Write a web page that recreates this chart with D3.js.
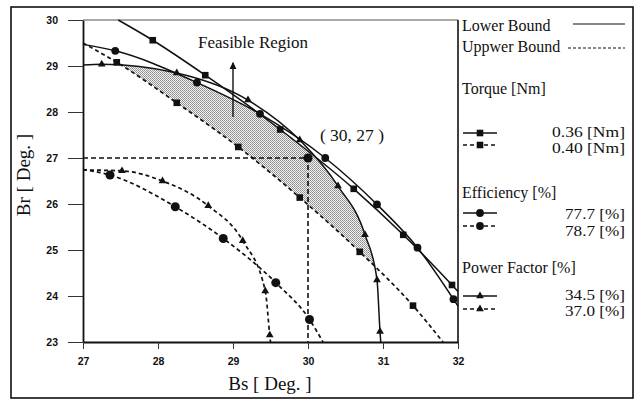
<!DOCTYPE html>
<html><head><meta charset="utf-8">
<script src="https://cdn.jsdelivr.net/npm/d3@7"></script>
<style>body{margin:0;background:#fff} svg{display:block}</style>
</head><body><svg id="c" width="638" height="400"></svg>
<script>
// ---------- data ----------
const bsTicks = [27, 28, 29, 30, 31, 32];
const brTicks = [23, 24, 25, 26, 27, 28, 29, 30];
// [Bs, Br]
const torque036 = [[27.47,30],[27.93,29.56],[28.63,28.8],[29.63,27.62],[30.61,26.33],[31.27,25.33],[31.92,24.24],[32,24.1]];
const torque040 = [[27,29.5],[27.45,29.08],[28.25,28.2],[29.07,27.24],[29.89,26.14],[30.69,24.96],[31.4,23.79],[31.8,23]];
const eff777 = [[27,29.47],[27.43,29.33],[28.52,28.64],[29.36,27.96],[30.23,27.0],[30.92,25.99],[31.46,25.05],[31.94,23.93],[32,23.78]];
const eff787 = [[27,26.75],[27.36,26.63],[28.23,25.94],[28.87,25.25],[29.57,24.29],[30.02,23.49],[30.2,23]];
const pf345 = [[27,29.02],[27.25,29.04],[28.25,28.85],[29.2,28.26],[29.89,27.39],[30.4,26.39],[30.76,25.33],[30.92,24.35],[30.96,23.23],[30.97,23]];
const pf370 = [[27,26.74],[27.52,26.72],[28.06,26.5],[28.67,25.96],[29.13,25.2],[29.43,24.11],[29.49,23.15],[29.5,23]];
const chosenPoint = [30, 27];
const chosenLabel = "( 30, 27 )";
const arrowFrom = [29, 27.89], arrowTo = [29, 29.07];
const regionLabel = "Feasible Region";
const legendGroups = ["Torque [Nm]", "Efficiency [%]", "Power Factor [%]"];
const legendItems = [["0.36 [Nm]","0.40 [Nm]"],["77.7 [%]","78.7 [%]"],["34.5 [%]","37.0 [%]"]];

// ---------- setup ----------
const svg = d3.select('#c');
const x = d3.scaleLinear().domain([27, 32]).range([83, 458]);
const y = d3.scaleLinear().domain([23, 30]).range([342, 20]);
const serif = "'Liberation Serif','Times New Roman',serif";
const sans = "'Liberation Sans',Arial,sans-serif";
const ink = "#111";

// outer frame
svg.append('rect').attr('x',11).attr('y',7).attr('width',622).attr('height',391)
  .attr('fill','none').attr('stroke',ink).attr('stroke-width',1.6);

const defs = svg.append('defs');
const pat = defs.append('pattern').attr('id','dots').attr('patternUnits','userSpaceOnUse')
  .attr('width',2).attr('height',2);
pat.append('rect').attr('width',2).attr('height',2).attr('fill','#f4f4f4');
pat.append('rect').attr('x',0).attr('y',0).attr('width',1).attr('height',1).attr('fill','#8c8c8c');
pat.append('rect').attr('x',1).attr('y',1).attr('width',1).attr('height',1).attr('fill','#9c9c9c');

const curve = d3.curveMonotoneX;
const below = d3.area().x(d=>x(d[0])).y0(y(23)).y1(d=>y(d[1])).curve(curve);
const above = d3.area().x(d=>x(d[0])).y0(y(30)).y1(d=>y(d[1])).curve(curve);
defs.append('clipPath').attr('id','aboveT040').append('path').attr('d', above(torque040));
defs.append('clipPath').attr('id','belowE777').append('path').attr('d', below(eff777));
defs.append('clipPath').attr('id','belowT036').append('path')
  .attr('d', below([[27,30],...torque036]));

// feasible region shading
svg.append('g').attr('clip-path','url(#belowT036)')
  .append('g').attr('clip-path','url(#belowE777)')
  .append('g').attr('clip-path','url(#aboveT040)')
  .append('path').attr('d', below(pf345)).attr('fill','url(#dots)');

// axes
const fmt = d3.format('d');
const yAxis = d3.axisLeft(y).tickValues(brTicks).tickFormat(fmt).tickSize(15).tickSizeOuter(0).tickPadding(10);
const gy = svg.append('g').attr('transform',`translate(${x(27)},0)`).call(yAxis);
const xAxis = d3.axisBottom(x).tickValues(bsTicks).tickFormat(fmt).tickSize(7).tickSizeOuter(0).tickPadding(9);
const gx = svg.append('g').attr('transform',`translate(0,${y(23)})`).call(xAxis);
[gx, gy].forEach(g => {
  g.select('.domain').attr('stroke',ink).attr('stroke-width',1.8);
  g.selectAll('.tick line').attr('stroke','#333').attr('stroke-width',1);
  g.selectAll('.tick text').attr('font-family',sans).attr('font-weight','bold')
    .attr('font-size','10.5px').attr('fill',ink);
});
// top and right frame of plot
svg.append('line').attr('x1',x(27)).attr('x2',x(32)).attr('y1',y(30)).attr('y2',y(30))
  .attr('stroke','#555').attr('stroke-width',1);
svg.append('line').attr('x1',x(32)).attr('x2',x(32)).attr('y1',y(30)).attr('y2',y(23))
  .attr('stroke',ink).attr('stroke-width',1.6);

// guide lines to chosen point
svg.append('path')
  .attr('d', d3.line()([[x(27),y(chosenPoint[1])],[x(chosenPoint[0]),y(chosenPoint[1])],[x(chosenPoint[0]),y(23)]]))
  .attr('fill','none').attr('stroke',ink).attr('stroke-width',1.6).attr('stroke-dasharray','5,3');

// series
const series = [
  {data: torque036, dash: null, mark: 'square'},
  {data: torque040, dash: '4,3', mark: 'square'},
  {data: eff777, dash: null, mark: 'circle'},
  {data: eff787, dash: '4,3', mark: 'circle'},
  {data: pf345, dash: null, mark: 'triangle'},
  {data: pf370, dash: '4,3', mark: 'triangle'}
];
const line = d3.line().x(d=>x(d[0])).y(d=>y(d[1])).curve(curve);
function marker(g, type, cx, cy, big) {
  if (type === 'square') {
    g.append('rect').attr('x',cx-3.3).attr('y',cy-3.3).attr('width',6.6).attr('height',6.6).attr('fill',ink);
  } else if (type === 'circle') {
    g.append('circle').attr('cx',cx).attr('cy',cy).attr('r',big?4.5:3.9).attr('fill',ink);
  } else {
    g.append('path').attr('d',d3.symbol(d3.symbolTriangle, 26)()).attr('transform',`translate(${cx},${cy})`).attr('fill',ink);
  }
}
const onEdge = d => d[0] <= 27 || d[0] >= 32 || d[1] <= 23 || d[1] >= 30;
series.forEach(s => {
  svg.append('path').attr('d', line(s.data)).attr('fill','none').attr('stroke',ink)
    .attr('stroke-width', s.dash ? 1.7 : 1.5).attr('stroke-dasharray', s.dash);
  const g = svg.append('g');
  s.data.filter(d => !onEdge(d)).forEach(d => marker(g, s.mark, x(d[0]), y(d[1]), s.data === eff787));
});
svg.append('circle').attr('cx',x(chosenPoint[0])).attr('cy',y(chosenPoint[1])).attr('r',4.6).attr('fill',ink);

// arrow
defs.append('marker').attr('id','ah').attr('viewBox','0 0 10 10').attr('refX',9).attr('refY',5)
  .attr('markerWidth',7).attr('markerHeight',9).attr('markerUnits','userSpaceOnUse').attr('orient','auto')
  .append('path').attr('d','M0,0L10,5L0,10z').attr('fill',ink);
svg.append('line').attr('x1',x(arrowFrom[0])).attr('y1',y(arrowFrom[1]))
  .attr('x2',x(arrowTo[0])).attr('y2',y(arrowTo[1])).attr('stroke',ink).attr('stroke-width',1.4)
  .attr('marker-end','url(#ah)');

// annotations
svg.append('text').attr('x',x(arrowFrom[0])+20).attr('y',48).attr('text-anchor','middle')
  .attr('font-family',serif).attr('font-size','17px').attr('fill',ink).text(regionLabel);
svg.append('text').attr('x',x(chosenPoint[0])+44).attr('y',y(chosenPoint[1])-17).attr('text-anchor','middle')
  .attr('font-family',serif).attr('font-size','17.5px').attr('fill',ink)
  .attr('xml:space','preserve').style('white-space','pre').text(chosenLabel);

// axis titles
svg.append('text').attr('x',270).attr('y',390).attr('text-anchor','middle')
  .attr('font-family',serif).attr('font-size','19px').attr('fill',ink).text('Bs [ Deg. ]');
svg.append('text').attr('transform','translate(30,175) rotate(-90)').attr('text-anchor','middle')
  .attr('font-family',serif).attr('font-size','19px').attr('fill',ink).text('Br [ Deg. ]');

// legend
const lg = svg.append('g').attr('font-family',serif).attr('font-size','16px').attr('fill',ink);
lg.append('text').attr('x',462).attr('y',31).text('Lower Bound');
lg.append('line').attr('x1',573).attr('x2',625).attr('y1',24).attr('y2',24).attr('stroke',ink).attr('stroke-width',1.2);
lg.append('text').attr('x',462).attr('y',51.5).text('Uppwer Bound');
lg.append('line').attr('x1',568).attr('x2',625).attr('y1',48).attr('y2',48).attr('stroke',ink)
  .attr('stroke-width',1.2).attr('stroke-dasharray','3,2');
const groupY = [94, 198, 273];
const itemY = [[137,153],[219,236],[299.5,316]];
const lineY = [[133,145],[213,226],[296,309]];
const itemW = [73, 60, 60];
const marks = ['square','circle','triangle'];
legendGroups.forEach((t,i) => {
  lg.append('text').attr('x',462).attr('y',groupY[i]).text(t);
  legendItems[i].forEach((lab,j) => {
    lg.append('text').attr('x',625 - itemW[i]).attr('y',itemY[i][j])
      .attr('font-size','14.6px').attr('textLength',itemW[i]).attr('lengthAdjust','spacingAndGlyphs').text(lab);
    lg.append('line').attr('x1',463).attr('x2',497).attr('y1',lineY[i][j]).attr('y2',lineY[i][j])
      .attr('stroke',ink).attr('stroke-width',1.4).attr('stroke-dasharray', j ? '4,3' : null);
    marker(lg, marks[i], 480, lineY[i][j], false);
  });
});
</script></body></html>
